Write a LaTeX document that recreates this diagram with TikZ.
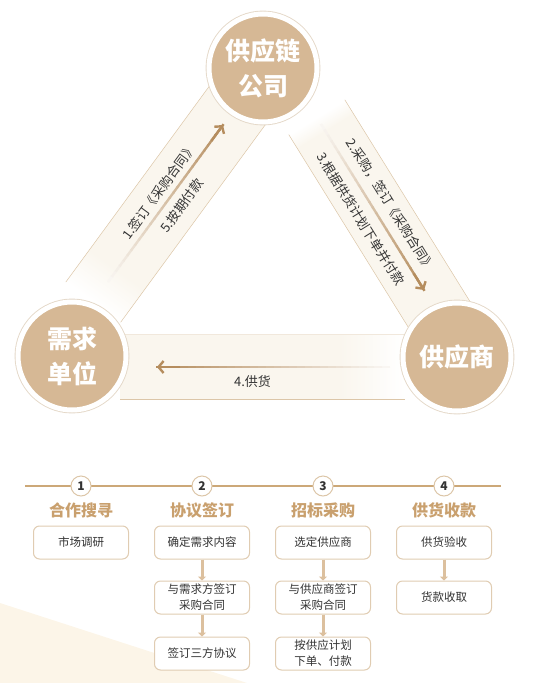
\documentclass[tikz,border=0pt]{standalone}
\usepackage{fontspec}
\setmainfont{Noto Sans CJK SC}
\usetikzlibrary{arrows.meta,calc}
\definecolor{circfill}{HTML}{D6B895}
\definecolor{ringedge}{HTML}{E4D8C8}
\definecolor{arrowc}{HTML}{B58D5E}
\definecolor{headc}{HTML}{C9A06E}
\definecolor{bandc}{HTML}{FAF6EE}
\definecolor{bandedge}{HTML}{DCC6A8}
\definecolor{boxedge}{HTML}{E0CCB2}
\definecolor{varrowc}{HTML}{DCC09E}
\definecolor{creamc}{HTML}{FCF5E8}
\definecolor{txt}{HTML}{333333}
\definecolor{linec}{HTML}{CCA878}
\definecolor{numedge}{HTML}{DCC6A8}
\tikzset{
  circ/.style={circle, fill=circfill, draw=white, line width=5pt, minimum size=108pt, inner sep=0pt,
    align=center, text=white, font=\fontsize{25}{35}\selectfont\bfseries,
    preaction={draw=ringedge, line width=6.8pt}},
  lbl/.style={font=\fontsize{13}{13}\selectfont, text=txt, inner sep=0pt},
  shaft/.style={line width=2.4pt, line cap=butt},
  tipstyle/.style={arrowc, line width=2.4pt, -{Straight Barb[length=5pt,width=12pt,line width=2.4pt]}},
  numc/.style={circle, fill=white, draw=numedge, line width=1pt, minimum size=20pt, inner sep=0pt,
    font=\fontsize{12}{12}\selectfont\bfseries, text=txt},
  headtxt/.style={font=\fontsize{16}{16}\selectfont\bfseries, text=headc, inner sep=0pt},
  stepbox/.style={rounded corners=6pt, draw=boxedge, line width=1pt, fill=white, minimum width=95pt,
    minimum height=33pt, inner sep=0pt, align=center, font=\fontsize{11.5}{16}\selectfont, text=txt},
  varrow/.style={draw=varrowc, line width=3pt, -{Triangle[length=4pt,width=8pt]}},
  bedge/.style={draw=bandedge, line width=0.5pt}
}
\begin{document}
\begin{tikzpicture}[x=1pt,y=-1pt]
\useasboundingbox (0,0) rectangle (537,683);
% background cream wedge
\fill[creamc] (0,603) -- (247,683) -- (0,683) -- cycle;

% arrow end coordinates
\coordinate (la) at (108,282);
\coordinate (lb) at (223,125);
\coordinate (ra) at (321,124);
\coordinate (rb) at (424,290);
\coordinate (ba) at (390,367);
\coordinate (bb) at (157,367);

% bands
\begin{scope}[transform canvas={shift={(la)}, rotate=53.78}]
  \fill[bandc] (15,-34) rectangle (230,34);
  \shade[left color=white, right color=bandc] (-25,-34) rectangle (15.5,34);
  \draw[bedge] (-25,-34) -- (230,-34);
  \draw[bedge] (-25,34) -- (230,34);
\end{scope}
\begin{scope}[transform canvas={shift={(ra)}, rotate=-58.18}]
  \fill[bandc] (8,-33) rectangle (245,33);
  \shade[left color=white, right color=bandc] (-8,-33) rectangle (8.5,33);
  \draw[bedge] (-8,-33) -- (245,-33);
  \draw[bedge] (-8,33) -- (245,33);
\end{scope}
\fill[bandc] (120,334) rectangle (340,399);
\shade[left color=bandc, right color=white] (339.5,334) rectangle (405,399);
\draw[bedge, draw=bandedge!40] (120,334) -- (405,334);
\draw[bedge] (120,399) -- (405,399);

% gradient arrows
\foreach \s/\e in {la/lb, ra/rb, ba/bb} {
  \foreach \i in {0,...,29} {
    \pgfmathsetmacro\pa{\i/30}
    \pgfmathsetmacro\pb{(\i+1.15)/30}
    \pgfmathsetmacro\pc{8+92*\i/29}
    \draw[shaft, arrowc!\pc!white] ($(\s)!\pa!(\e)$) -- ($(\s)!\pb!(\e)$);
  }
  \draw[tipstyle] ($(\s)!0.9!(\e)$) -- (\e);
}

% labels
\path (la) -- (lb) node[lbl, pos=0.53, sloped, above=6pt] (l1) {1.签订《采购合同》}
                   node[lbl, pos=0.54, sloped, below=8pt] (l5) {5.按期付款};
\path (ra) -- (rb) node[lbl, pos=0.54, sloped, above=10pt] (l2) {2.采购，签订《采购合同》}
                   node[lbl, pos=0.52, sloped, below=10pt] (l3) {3.根据供货计划下单并付款};
\path (ba) -- (bb) node[lbl, pos=0.59, below=8pt] (l4) {4.供货};

% circles
\node[circ] (scm) at (263,68) {供应链\\公司};
\node[circ] (dem) at (72,356) {需求\\单位};
\node[circ] (sup) at (457,357) {供应商};

% timeline
\coordinate (t0) at (25,486);
\coordinate (t1) at (501,486);
\draw[linec, line width=2.2pt] (t0) -- (t1);
\foreach \n/\x/\h in {1/81/合作搜寻, 2/202/协议签订, 3/323/招标采购, 4/444/供货收款} {
  \node[numc] (n\n) at (\x,486) {\n};
  \node[headtxt] (h\n) at (\x,510) {\h};
}

% boxes
\node[stepbox] (b11) at (81,542.5) {市场调研};
\node[stepbox] (b21) at (202,542.5) {确定需求内容};
\node[stepbox] (b22) at (202,597.5) {与需求方签订\\采购合同};
\node[stepbox] (b23) at (202,653.5) {签订三方协议};
\node[stepbox] (b31) at (323,542.5) {选定供应商};
\node[stepbox] (b32) at (323,597.5) {与供应商签订\\采购合同};
\node[stepbox] (b33) at (323,653.5) {按供应计划\\下单、付款};
\node[stepbox] (b41) at (444,542.5) {供货验收};
\node[stepbox] (b42) at (444,597.5) {货款收取};

\draw[varrow] (b21) -- (b22);
\draw[varrow] (b22) -- (b23);
\draw[varrow] (b31) -- (b32);
\draw[varrow] (b32) -- (b33);
\draw[varrow] (b41) -- (b42);
\end{tikzpicture}
\end{document}
